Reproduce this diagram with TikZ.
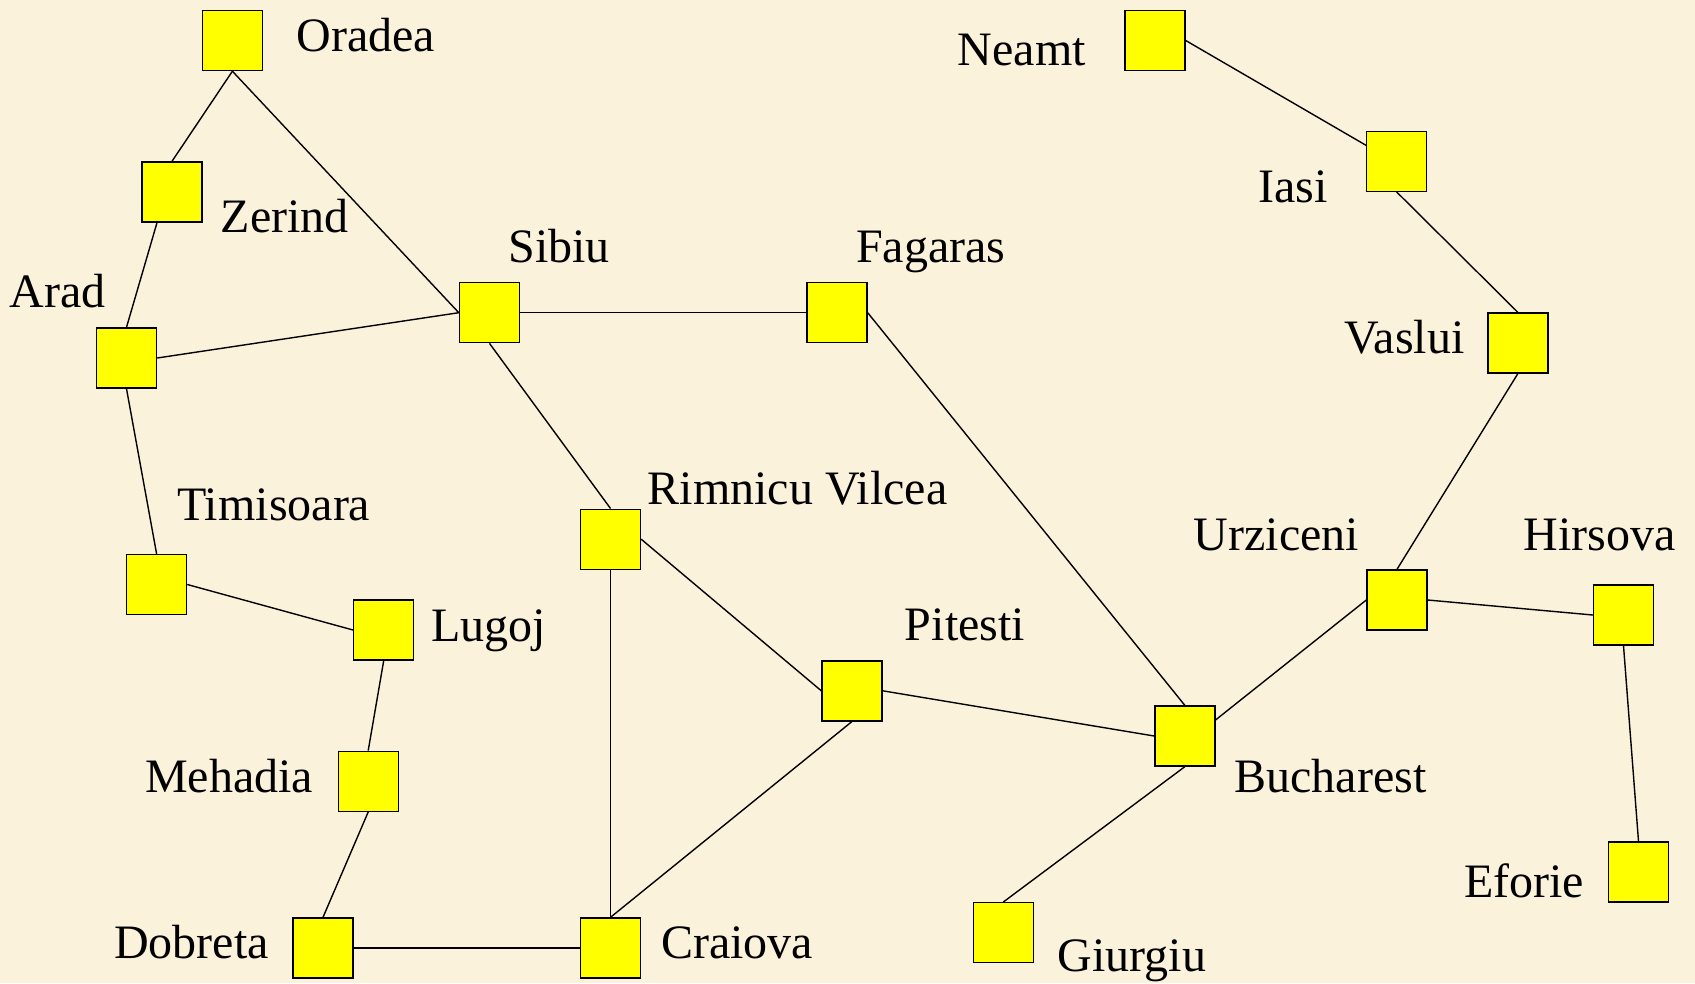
\documentclass[tikz,border=0pt]{standalone}
\usepackage{fontspec}
\setmainfont{Liberation Serif}
\definecolor{bgcol}{RGB}{251,242,220}
\definecolor{cityfill}{RGB}{255,255,0}
\begin{document}
\begin{tikzpicture}[x=1pt,y=-1pt,
  city/.style={draw=black, fill=cityfill, line width=1.4pt, minimum size=60pt, inner sep=0pt},
  lbl/.style={anchor=base, inner sep=0pt, font=\fontsize{48}{58}\selectfont},
  road/.style={draw=black, line width=1.4pt}]
\fill[bgcol] (0,0) rectangle (1695,983);
\useasboundingbox (0,0) rectangle (1695,983);
% cities
\node[city] (ora) at (232.4,40.5) {};
\node[city] (zer) at (172,192) {};
\node[city] (ara) at (126.5,358) {};
\node[city] (sib) at (489.5,312.7) {};
\node[city] (fag) at (837,312.7) {};
\node[city] (nea) at (1155,40.5) {};
\node[city] (ias) at (1396.7,161.3) {};
\node[city] (vas) at (1517.8,343) {};
\node[city] (rim) at (610.5,539.2) {};
\node[city] (tim) at (156.6,584.5) {};
\node[city] (lug) at (383.7,630) {};
\node[city] (pit) at (852,690.8) {};
\node[city] (urz) at (1397,600) {};
\node[city] (hir) at (1623.5,615) {};
\node[city] (buc) at (1184.8,736) {};
\node[city] (meh) at (368.2,781.3) {};
\node[city] (efo) at (1638.5,872) {};
\node[city] (dob) at (323,948) {};
\node[city] (cra) at (610.5,948) {};
\node[city] (giu) at (1003.3,932.7) {};
% labels
\node[lbl] (lora) at (366,51.7) {Oradea};
\node[lbl] (lzer) at (284.7,232.3) {Zerind};
\node[lbl] (lara) at (57.7,307.3) {Arad};
\node[lbl] (lsib) at (559,262.5) {Sibiu};
\node[lbl] (lfag) at (930.8,262.3) {Fagaras};
\node[lbl] (lnea) at (1021.8,65) {Neamt};
\node[lbl] (lias) at (1293,202.3) {Iasi};
\node[lbl] (lvas) at (1404.5,353.3) {Vaslui};
\node[lbl] (lrim) at (797.5,504.3) {Rimnicu Vilcea};
\node[lbl] (ltim) at (273.8,520) {Timisoara};
\node[lbl] (llug) at (488.4,641.7) {Lugoj};
\node[lbl] (lpit) at (965,640.7) {Pitesti};
\node[lbl] (lurz) at (1276.5,550.5) {Urziceni};
\node[lbl] (lhir) at (1599.5,550.5) {Hirsova};
\node[lbl] (lmeh) at (229,792.3) {Mehadia};
\node[lbl] (lbuc) at (1330.5,792.7) {Bucharest};
\node[lbl] (lefo) at (1524,897.3) {Eforie};
\node[lbl] (ldob) at (191.4,958.3) {Dobreta};
\node[lbl] (lcra) at (737,958.3) {Craiova};
\node[lbl] (lgiu) at (1132,971.7) {Giurgiu};
% roads
\draw[road] (ora.south) -- (zer.north);
\draw[road] (ora.south) -- (sib.west);
\draw[road] ([xshift=-15pt]zer.south) -- (ara.north);
\draw[road] (ara.east) -- (sib.west);
\draw[road] (ara.south) -- (tim.north);
\draw[road] (tim.east) -- (lug.west);
\draw[road] (lug.south) -- (meh.north);
\draw[road] (meh.south) -- (dob.north);
\draw[road] (dob.east) -- (cra.west);
\draw[road] (sib.east) -- (fag.west);
\draw[road] (sib.south) -- (rim.north);
\draw[road] (rim.south) -- (cra.north);
\draw[road] (rim.east) -- (pit.west);
\draw[road] (pit.south) -- (cra.north);
\draw[road] (pit.east) -- (buc.west);
\draw[road] (fag.east) -- (buc.north);
\draw[road] (buc.south) -- (giu.north);
\draw[road] ([yshift=16pt]buc.east) -- (urz.west);
\draw[road] (urz.east) -- (hir.west);
\draw[road] (hir.south) -- (efo.north);
\draw[road] (urz.north) -- (vas.south);
\draw[road] (vas.north) -- (ias.south);
\draw[road] ([yshift=16pt]ias.west) -- (nea.east);
\end{tikzpicture}
\end{document}
